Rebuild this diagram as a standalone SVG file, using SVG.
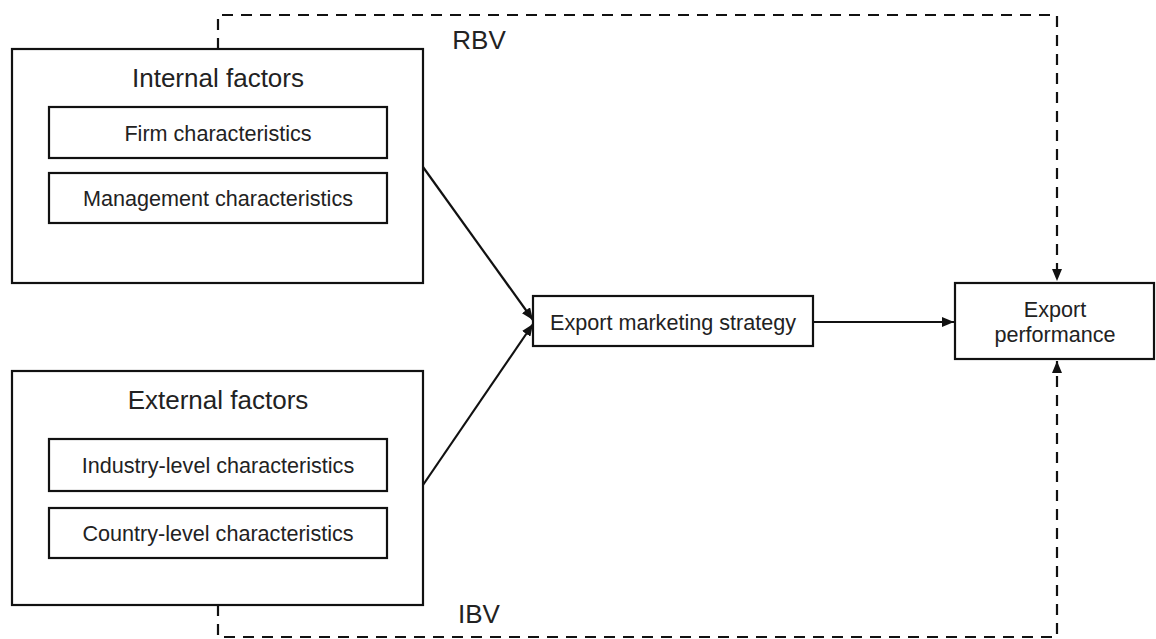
<svg xmlns="http://www.w3.org/2000/svg" width="1156" height="639" viewBox="0 0 1156 639">
<style>
.box{fill:#fff;stroke:#111;stroke-width:2.2}
.t{font-family:"Liberation Sans",Arial,sans-serif;fill:#222;text-anchor:middle}
.big{font-size:26px}
.sm{font-size:21.6px}
.line{fill:none;stroke:#111;stroke-width:2.2}
.dash{fill:none;stroke:#111;stroke-width:2.2;stroke-dasharray:11 8}
</style>
<defs>
<marker id="ah" viewBox="0 0 12 10" refX="12" refY="5" markerWidth="12" markerHeight="10" markerUnits="userSpaceOnUse" orient="auto">
<path d="M0,0 L12,5 L0,10 z" fill="#111"/>
</marker>
</defs>
<g id="connectors">
<path class="dash" d="M218,49 V15 H1057 V281" marker-end="url(#ah)"/>
<path class="dash" d="M218,605 V637 H1057 V361" marker-end="url(#ah)"/>
<line class="line" x1="423" y1="167" x2="533" y2="320" marker-end="url(#ah)"/>
<line class="line" x1="423" y1="485" x2="533" y2="324" marker-end="url(#ah)"/>
<line class="line" x1="813" y1="322" x2="954" y2="322" marker-end="url(#ah)"/>
<text class="t big" x="479" y="49">RBV</text>
<text class="t big" x="479" y="623">IBV</text>
</g>
<g id="internal">
<rect class="box" x="12" y="49" width="411" height="234"/>
<text class="t big" x="218" y="87">Internal factors</text>
</g>
<g id="firm">
<rect class="box" x="49" y="107" width="338" height="51"/>
<text class="t sm" x="218" y="141">Firm characteristics</text>
</g>
<g id="management">
<rect class="box" x="49" y="173" width="338" height="50"/>
<text class="t sm" x="218" y="206">Management characteristics</text>
</g>
<g id="external">
<rect class="box" x="12" y="371" width="411" height="234"/>
<text class="t big" x="218" y="409">External factors</text>
</g>
<g id="industry">
<rect class="box" x="49" y="439" width="338" height="52"/>
<text class="t sm" x="218" y="473">Industry-level characteristics</text>
</g>
<g id="country">
<rect class="box" x="49" y="508" width="338" height="50"/>
<text class="t sm" x="218" y="541">Country-level characteristics</text>
</g>
<g id="strategy">
<rect class="box" x="533" y="296" width="280" height="50"/>
<text class="t sm" x="673" y="330">Export marketing strategy</text>
</g>
<g id="performance">
<rect class="box" x="955" y="283" width="199" height="76"/>
<text class="t sm" x="1055" y="317">Export</text>
<text class="t sm" x="1055" y="342">performance</text>
</g>
</svg>
